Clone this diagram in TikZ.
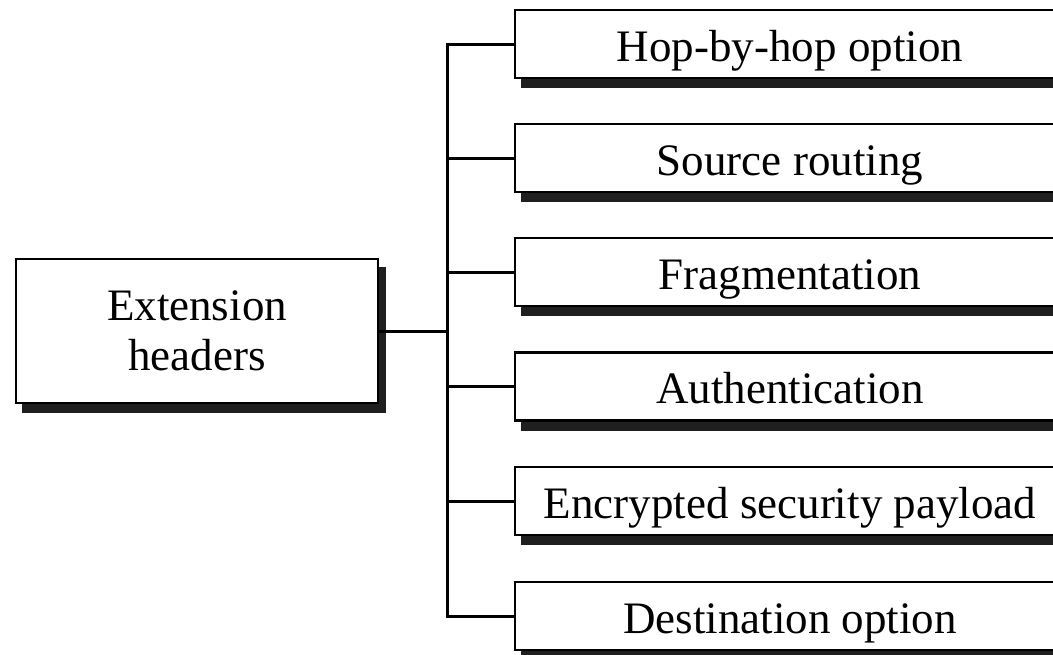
\documentclass[tikz,border=0pt]{standalone}
\usepackage{fontspec}
\setmainfont{Liberation Serif}
\usetikzlibrary{shadows}
\begin{document}
\begin{tikzpicture}[x=1pt,y=-1pt,
  shadowbox/.style={draw=black, line width=2.8pt, fill=white, inner sep=0pt,
    copy shadow={shadow xshift=7pt, shadow yshift=-9pt, fill=black!88, draw=black!88, line width=2.8pt},
    font=\fontsize{45}{50}\selectfont, align=center},
  optbox/.style={shadowbox, minimum width=550pt, minimum height=68pt, text height=37pt, text depth=3pt},
  conn/.style={line width=3pt, line cap=rect}]
\clip (0,0) rectangle (1053,654);
\fill[white] (0,0) rectangle (1053,654);
\node[shadowbox, minimum width=362pt, minimum height=144pt] (ext) at (197,331) {Extension\\headers};
\node[optbox] (o1) at (790,44) {Hop-by-hop option};
\node[optbox] (o2) at (790,158) {Source routing};
\node[optbox] (o3) at (790,272) {Fragmentation};
\node[optbox] (o4) at (790,386.5) {Authentication};
\node[optbox] (o5) at (790,501) {Encrypted security payload};
\node[optbox] (o6) at (790,616) {Destination option};
\coordinate (bus) at (447,331);
\draw[conn] (ext.east) -- (bus);
\draw[conn] (o1.west) -| (bus |- o6.west) -- (o6.west);
\foreach \n in {o2,o3,o4,o5}{\draw[conn] (bus |- \n.west) -- (\n.west);}
\end{tikzpicture}
\end{document}
